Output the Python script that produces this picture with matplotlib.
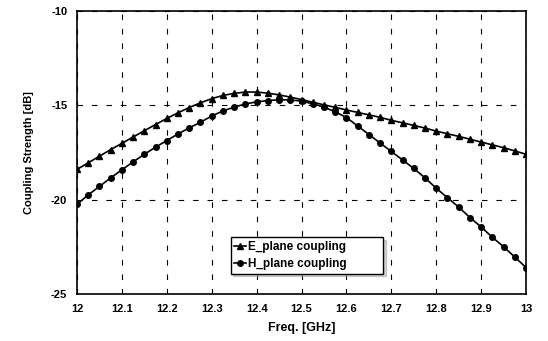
import numpy as np
import matplotlib.pyplot as plt

# Frequency points (GHz), step 0.025
freq = [12.000, 12.025, 12.050, 12.075, 12.100, 12.125, 12.150, 12.175, 12.200, 12.225,
        12.250, 12.275, 12.300, 12.325, 12.350, 12.375, 12.400, 12.425, 12.450, 12.475,
        12.500, 12.525, 12.550, 12.575, 12.600, 12.625, 12.650, 12.675, 12.700, 12.725,
        12.750, 12.775, 12.800, 12.825, 12.850, 12.875, 12.900, 12.925, 12.950, 12.975,
        13.000]

e_plane = [-18.40, -18.05, -17.70, -17.35, -17.02, -16.68, -16.35, -16.02, -15.70, -15.40,
           -15.12, -14.87, -14.65, -14.48, -14.37, -14.30, -14.30, -14.36, -14.45, -14.57,
           -14.70, -14.84, -14.98, -15.11, -15.25, -15.38, -15.51, -15.64, -15.80, -15.93,
           -16.07, -16.21, -16.37, -16.51, -16.65, -16.80, -16.95, -17.10, -17.25, -17.42,
           -17.60]

h_plane = [-20.25, -19.75, -19.30, -18.85, -18.42, -18.00, -17.60, -17.22, -16.87, -16.52,
           -16.20, -15.90, -15.57, -15.30, -15.10, -14.93, -14.82, -14.75, -14.71, -14.72,
           -14.78, -14.92, -15.10, -15.35, -15.65, -16.10, -16.55, -17.00, -17.45, -17.90,
           -18.35, -18.85, -19.40, -19.90, -20.40, -20.95, -21.45, -22.00, -22.50, -23.05,
           -23.60]

x_ticks = [12, 12.1, 12.2, 12.3, 12.4, 12.5, 12.6, 12.7, 12.8, 12.9, 13]
x_labels = ['12', '12.1', '12.2', '12.3', '12.4', '12.5', '12.6', '12.7', '12.8', '12.9', '13']
y_ticks = [-25, -20, -15, -10]

plt.rcParams['font.family'] = ['Liberation Sans', 'DejaVu Sans']
plt.rcParams['axes.unicode_minus'] = False

fig = plt.figure(figsize=(5.48, 3.41), dpi=100)
ax = fig.add_axes([0.1405, 0.138, 0.8195, 0.83])

ax.plot(freq, e_plane, color='black', lw=1.2, marker='^', ms=5, label='E_plane coupling')
ax.plot(freq, h_plane, color='black', lw=1.2, marker='o', ms=4, label='H_plane coupling')

ax.set_xlim(12, 13)
ax.set_ylim(-25, -10)
ax.set_xticks(x_ticks)
ax.set_xticklabels(x_labels)
ax.set_yticks(y_ticks)
ax.tick_params(length=0, pad=7, labelsize=8)
for lab in ax.get_xticklabels() + ax.get_yticklabels():
    lab.set_fontweight('bold')

ax.grid(True, color='black', linestyle=(0, (5, 8)), linewidth=0.8)
for s in ax.spines.values():
    s.set_linewidth(1.2)

ax.set_xlabel('Freq. [GHz]', fontsize=9, fontweight='bold', labelpad=6)
ax.set_ylabel('Coupling Strength [dB]', fontsize=8, fontweight='bold', labelpad=12)

# legend box wider than its text, as in the original
leg = ax.legend(loc='lower left', bbox_to_anchor=(0.342, 0.072, 0.34, 0.12), mode='expand',
                prop={'weight': 'bold', 'size': 8.5},
                frameon=True, fancybox=False, shadow={'color': '0.65'},
                handlelength=1.0, handletextpad=0.15, borderpad=0.3,
                labelspacing=0.45, borderaxespad=0)
leg.get_frame().set_edgecolor('black')
leg.get_frame().set_linewidth(1.0)
leg.get_frame().set_alpha(1)

fig.savefig('out.png', dpi=100)
